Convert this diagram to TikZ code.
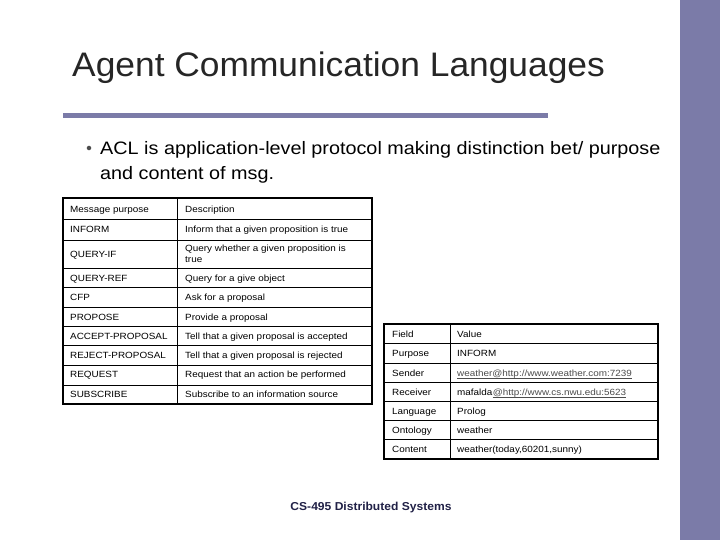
\documentclass[tikz,border=0pt]{standalone}
\usepackage{fontspec}
\setmainfont{Liberation Sans}
\usetikzlibrary{calc}
\begin{document}
\begin{tikzpicture}[x=1pt,y=-1pt,
  cell/.style={anchor=base west,font=\fontsize{9}{10.5}\selectfont,inner sep=0pt,align=left,xscale=1.1},
  link/.style={cell,text=black!70}]
\definecolor{bar}{HTML}{7B7BA8}
\useasboundingbox (0,0) rectangle (720,540);
\fill[white] (0,0) rectangle (720,540);
\fill[bar] (680,0) rectangle (720,540);
\fill[bar] (63,113.5) rectangle (548,118.5);
\node[anchor=base west,inner sep=0pt,font=\fontsize{34}{36}\selectfont,text=black!85,xscale=1.04] (title) at (72,77) {Agent Communication Languages};
\node[circle,fill=black!70,inner sep=1.6pt] (bul) at (89,148) {};
\node[anchor=north west,inner sep=0pt,align=left,font=\fontsize{18}{25}\selectfont,xscale=1.1] (txt) at (100,141) {ACL is application-level protocol making distinction bet/ purpose\\and content of msg.};
% left table
\draw[line width=1.2pt] (63,198) rectangle (372,404);
\draw[line width=1pt] (177,198) -- (177,404);
\foreach \y in {220,240,268,287,307,326,345,365,385}{\draw[line width=1pt] (63,\y) -- (372,\y);}
\node[cell] (l1) at (70,212.5) {Message purpose};
\node[cell] (r1) at (185,212.5) {Description};
\node[cell] (l2) at (70,232.5) {INFORM};
\node[cell] (r2) at (185,232.5) {Inform that a given proposition is true};
\node[cell] (l3) at (70,257.5) {QUERY-IF};
\node[cell,anchor=north west] (r3) at (185,245) {Query whether a given proposition is\\true};
\node[cell] (l4) at (70,281.5) {QUERY-REF};
\node[cell] (r4) at (185,281.5) {Query for a give object};
\node[cell] (l5) at (70,300.5) {CFP};
\node[cell] (r5) at (185,300.5) {Ask for a proposal};
\node[cell] (l6) at (70,320.5) {PROPOSE};
\node[cell] (r6) at (185,320.5) {Provide a proposal};
\node[cell] (l7) at (70,339.5) {ACCEPT-PROPOSAL};
\node[cell] (r7) at (185,339.5) {Tell that a given proposal is accepted};
\node[cell] (l8) at (70,358.5) {REJECT-PROPOSAL};
\node[cell] (r8) at (185,358.5) {Tell that a given proposal is rejected};
\node[cell] (l9) at (70,377.5) {REQUEST};
\node[cell] (r9) at (185,377.5) {Request that an action be performed};
\node[cell] (l10) at (70,397.5) {SUBSCRIBE};
\node[cell] (r10) at (185,397.5) {Subscribe to an information source};
% right table
\draw[line width=1.2pt] (384,324) rectangle (658,459);
\draw[line width=1pt] (450,324) -- (450,459);
\foreach \y in {343,363,382,401,420,439}{\draw[line width=1pt] (384,\y) -- (658,\y);}
\node[cell] (f1) at (392,337.5) {Field};
\node[cell] (v1) at (457,337.5) {Value};
\node[cell] (f2) at (392,356.5) {Purpose};
\node[cell] (v2) at (457,356.5) {INFORM};
\node[cell] (f3) at (392,376.5) {Sender};
\node[link] (v3) at (457,376.5) {weather@http://www.weather.com:7239};
\draw[black!70,line width=0.5pt] ($(v3.base west)+(0,2)$) -- ($(v3.base east)+(0,2)$);
\node[cell] (f4) at (392,395.5) {Receiver};
\node[cell] (v4a) at (457,395.5) {mafalda};
\node[link] (v4) at (v4a.base east) {@http://www.cs.nwu.edu:5623};
\draw[black!70,line width=0.5pt] ($(v4.base west)+(0,2)$) -- ($(v4.base east)+(0,2)$);
\node[cell] (f5) at (392,414.5) {Language};
\node[cell] (v5) at (457,414.5) {Prolog};
\node[cell] (f6) at (392,433.5) {Ontology};
\node[cell] (v6) at (457,433.5) {weather};
\node[cell] (f7) at (392,452.5) {Content};
\node[cell] (v7) at (457,452.5) {weather(today,60201,sunny)};
\node[font=\fontsize{11.5}{13}\selectfont\bfseries,text=bar!30!black!90!blue,xscale=1.05] (foot) at (371,508) {CS-495 Distributed Systems};
\end{tikzpicture}
\end{document}
